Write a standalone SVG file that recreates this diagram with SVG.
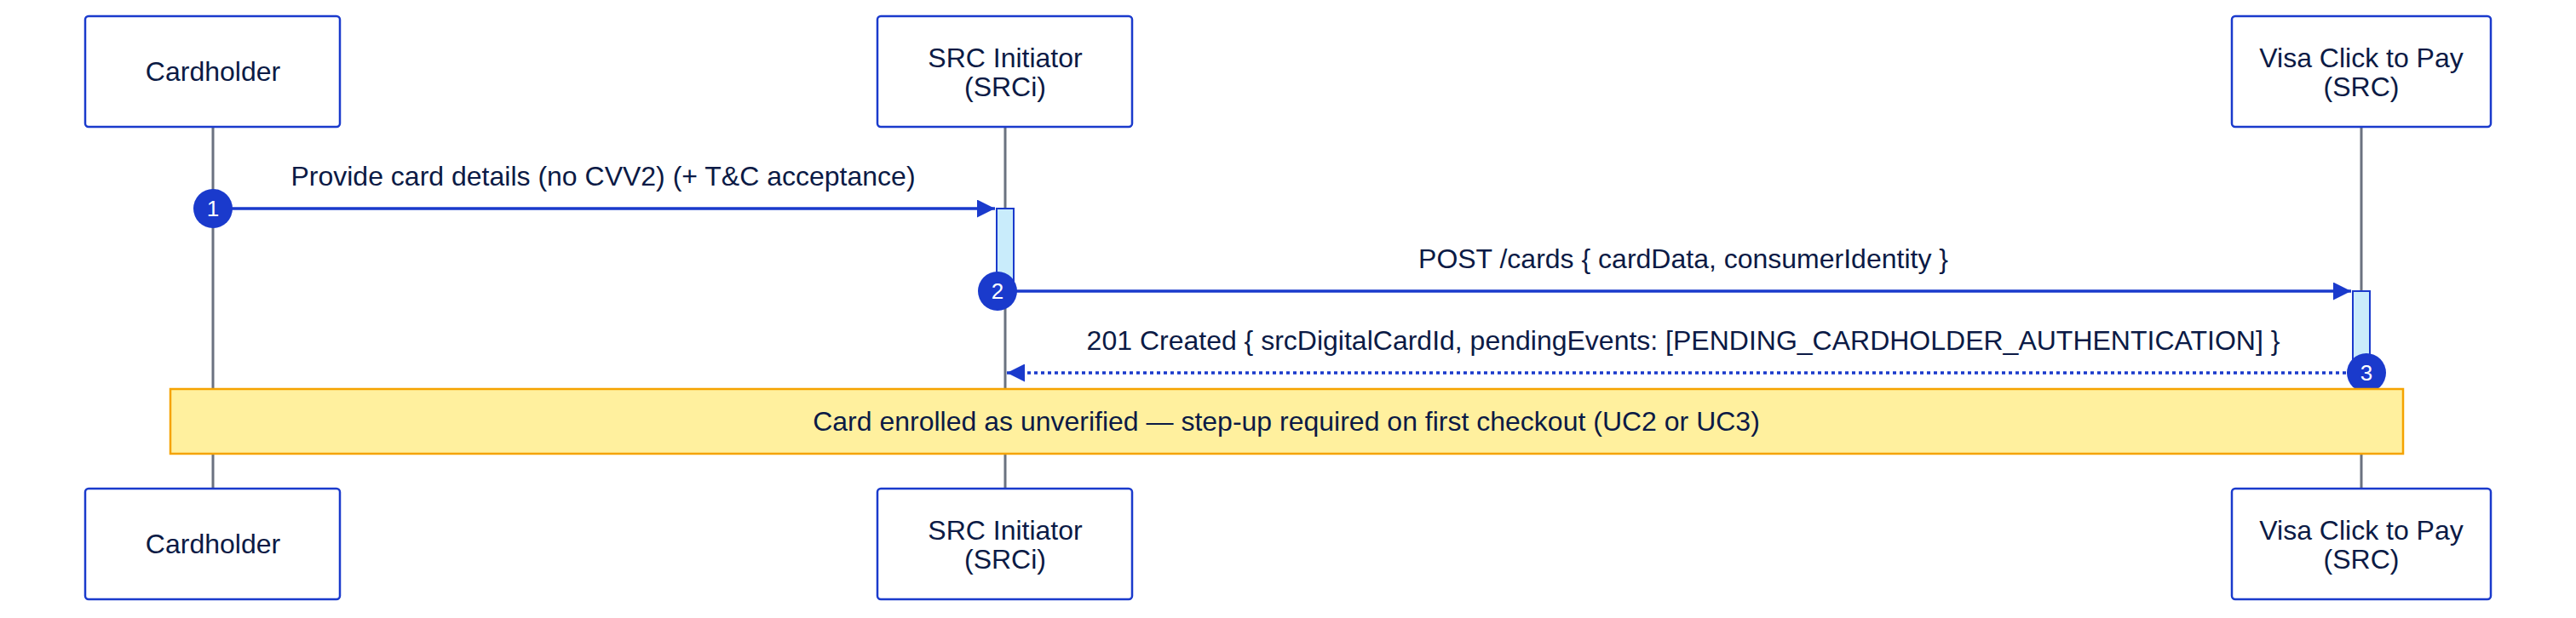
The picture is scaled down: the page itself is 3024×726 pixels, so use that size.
<svg xmlns="http://www.w3.org/2000/svg" width="3024" height="726" viewBox="0 0 3024 726">
<defs>
<style>
.box{fill:#fff;stroke:#1a3acc;stroke-width:2.5}
.t{font-family:"Liberation Sans",Arial,sans-serif;font-size:32px;fill:#0b1a45;text-anchor:middle}
.life{stroke:#6b7280;stroke-width:3}
.msg{stroke:#1a3acc;stroke-width:3.5;fill:none}
.act{fill:#c9ecfb;stroke:#1a3acc;stroke-width:2}
.num{fill:#1a3acc}
.nt{font-family:"Liberation Sans",Arial,sans-serif;font-size:26px;fill:#fff;text-anchor:middle}
</style>
<marker id="a" viewBox="0 0 10 10" refX="10" refY="5" markerWidth="6" markerHeight="6" orient="auto"><path d="M0,0L10,5L0,10z" fill="#1a3acc"/></marker>
</defs>
<g id="lifelines">
<line class="life" x1="250" y1="150" x2="250" y2="574"/>
<line class="life" x1="1180" y1="150" x2="1180" y2="574"/>
<line class="life" x1="2772" y1="150" x2="2772" y2="574"/>
</g>
<rect class="act" x="1170" y="245" width="20" height="100"/>
<rect class="act" x="2762" y="342" width="20" height="98"/>
<g id="connectors">
<line class="msg" x1="250" y1="245" x2="1168" y2="245" marker-end="url(#a)"/>
<text class="t" x="708" y="218">Provide card details (no CVV2) (+ T&amp;C acceptance)</text>
<line class="msg" x1="1190" y1="342" x2="2760" y2="342" marker-end="url(#a)"/>
<text class="t" x="1976" y="315">POST /cards { cardData, consumerIdentity }</text>
<line class="msg" x1="2762" y1="438" x2="1182" y2="438" stroke-dasharray="4,4" marker-end="url(#a)"/>
<text class="t" x="1976" y="411">201 Created { srcDigitalCardId, pendingEvents: [PENDING_CARDHOLDER_AUTHENTICATION] }</text>
</g>
<g id="n1"><circle class="num" cx="250" cy="245" r="23"/><text class="nt" x="250" y="254">1</text></g>
<g id="n2"><circle class="num" cx="1171" cy="342" r="23"/><text class="nt" x="1171" y="351">2</text></g>
<g id="n3"><circle class="num" cx="2778" cy="438" r="23"/><text class="nt" x="2778" y="447">3</text></g>
<g id="note"><rect x="200" y="457" width="2621" height="76" fill="#fff09e" stroke="#f5a300" stroke-width="2.5"/>
<text class="t" x="1510" y="506">Card enrolled as unverified — step-up required on first checkout (UC2 or UC3)</text></g>
<g id="cardholder-top"><rect class="box" x="100" y="19" width="299" height="130" rx="4"/><text class="t" x="250" y="95">Cardholder</text></g>
<g id="srci-top"><rect class="box" x="1030" y="19" width="299" height="130" rx="4"/><text class="t" x="1180" y="79">SRC Initiator</text><text class="t" x="1180" y="113">(SRCi)</text></g>
<g id="visa-top"><rect class="box" x="2620" y="19" width="304" height="130" rx="4"/><text class="t" x="2772" y="79">Visa Click to Pay</text><text class="t" x="2772" y="113">(SRC)</text></g>
<g id="cardholder-bottom"><rect class="box" x="100" y="574" width="299" height="130" rx="4"/><text class="t" x="250" y="650">Cardholder</text></g>
<g id="srci-bottom"><rect class="box" x="1030" y="574" width="299" height="130" rx="4"/><text class="t" x="1180" y="634">SRC Initiator</text><text class="t" x="1180" y="668">(SRCi)</text></g>
<g id="visa-bottom"><rect class="box" x="2620" y="574" width="304" height="130" rx="4"/><text class="t" x="2772" y="634">Visa Click to Pay</text><text class="t" x="2772" y="668">(SRC)</text></g>
</svg>
